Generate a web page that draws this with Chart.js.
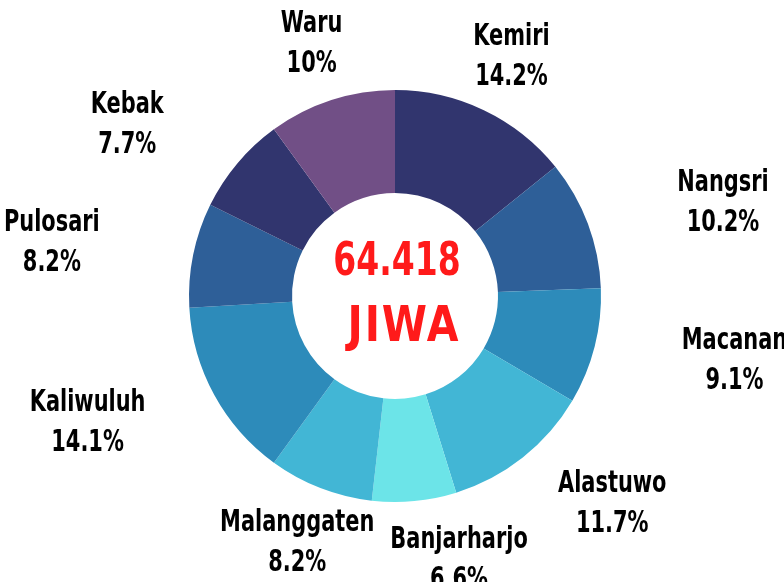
<!DOCTYPE html>
<html>
<head>
<meta charset="utf-8">
<script src="https://cdn.jsdelivr.net/npm/chart.js@4"></script>
<style>
  html, body { margin: 0; padding: 0; background: #fff; }
  #wrap { width: 784px; height: 582px; position: relative; }
</style>
</head>
<body>
<div id="wrap"><canvas id="donut"></canvas></div>
<script>
/* ── data ── */
const villages = ["Kemiri", "Nangsri", "Macanan", "Alastuwo", "Banjarharjo",
                  "Malanggaten", "Kaliwuluh", "Pulosari", "Kebak", "Waru"];
const shares = [14.2, 10.2, 9.1, 11.7, 6.6, 8.2, 14.1, 8.2, 7.7, 10];
const totalText = ["64.418", "JIWA"];

const sliceColors = ["#31356e", "#2e5f98", "#2d8bba", "#42b6d5", "#6ce4e8",
                     "#42b6d5", "#2d8bba", "#2e5f98", "#31356e", "#714f86"];

const condFont = "'DejaVu Sans Condensed', 'DejaVu Sans', sans-serif";
const squeeze = 0.75;

// squeeze text horizontally, the original uses a narrow display face
function narrowText(ctx, text, x, y, sx) {
  ctx.save();
  ctx.translate(x, y);
  ctx.scale(sx, 1);
  ctx.fillText(text, 0, 0);
  ctx.restore();
}

/* labels around the ring at each slice's mid angle */
const outsideLabels = {
  id: 'outsideLabels',
  afterDraw(chart) {
    const ctx = chart.ctx;
    const arcs = chart.getDatasetMeta(0).data;
    ctx.save();
    ctx.font = "bold 31px " + condFont;
    ctx.fillStyle = '#000';
    ctx.textAlign = 'center';
    ctx.textBaseline = 'middle';

    const boxes = arcs.map((arc, i) => {
      const mid = (arc.startAngle + arc.endAngle) / 2;
      // labels near top/bottom hug the ring, side ones sit further out
      const k = Math.abs(Math.sin(mid)) > 0.85 ? 1.31 : 1.70;
      const w = Math.max(ctx.measureText(villages[i]).width,
                         ctx.measureText(shares[i] + '%').width) * squeeze;
      return {
        x: arc.x + Math.cos(mid) * arc.outerRadius * k,
        y: arc.y + Math.sin(mid) * arc.outerRadius * 1.285,
        w: w, h: 80, cx: arc.x
      };
    });

    // push neighbours apart when they collide
    for (let i = 0; i < boxes.length; i++) {
      const a = boxes[i], b = boxes[(i + 1) % boxes.length];
      const need = (a.w + b.w) / 2 + 16;
      if (Math.abs(a.y - b.y) < (a.h + b.h) / 2 && Math.abs(a.x - b.x) < need) {
        const mover = Math.abs(a.x - a.cx) < Math.abs(b.x - b.cx) ? a : b;
        const other = mover === a ? b : a;
        const dir = mover.x >= other.x ? 1 : -1;
        mover.x = other.x + dir * need;
      }
    }

    boxes.forEach((bx, i) => {
      narrowText(ctx, villages[i], bx.x, bx.y - 20, squeeze);
      narrowText(ctx, shares[i] + '%', bx.x, bx.y + 20, squeeze);
    });
    ctx.restore();
  }
};

/* total in the hole */
const centerText = {
  id: 'centerText',
  afterDraw(chart) {
    const ctx = chart.ctx;
    const arc = chart.getDatasetMeta(0).data[0];
    ctx.save();
    ctx.fillStyle = '#ff1a1a';
    ctx.textAlign = 'center';
    ctx.textBaseline = 'middle';
    ctx.font = "bold 47px " + condFont;
    narrowText(ctx, totalText[0], arc.x + 2, arc.y - 33, 0.78);
    ctx.font = "bold 49px " + condFont;
    ctx.letterSpacing = '2px';
    narrowText(ctx, totalText[1], arc.x + 9, arc.y + 32, 0.93);
    ctx.restore();
  }
};

new Chart(document.getElementById('donut'), {
  type: 'doughnut',
  data: {
    labels: villages,
    datasets: [{
      data: shares,
      backgroundColor: sliceColors,
      borderWidth: 0,
      hoverOffset: 0
    }]
  },
  options: {
    responsive: true,
    maintainAspectRatio: false,
    animation: false,
    cutout: '50%',
    layout: { padding: { left: 189, right: 183, top: 90, bottom: 80 } },
    plugins: {
      legend: { display: false },
      tooltip: { enabled: false }
    }
  },
  plugins: [outsideLabels, centerText]
});
</script>
</body>
</html>
